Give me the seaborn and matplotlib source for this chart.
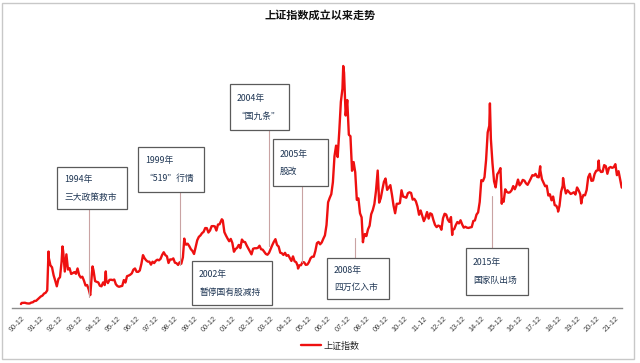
import numpy as np
import pandas as pd
import seaborn as sns
import matplotlib
matplotlib.use("Agg")
import matplotlib.pyplot as plt
from matplotlib.patches import Rectangle
from matplotlib.lines import Line2D

sns.set_theme(style="white")
plt.rcParams['font.family'] = ['Noto Sans CJK SC', 'DejaVu Sans']

# ---- data: Shanghai Composite month-end closes ----
y1990 = [127.6]
y1991 = [129.97, 133.01, 120.19, 113.94, 114.83, 137.56, 145.41, 178.43, 180.92, 218.60, 259.60, 292.75]
y1992 = [313.24, 364.95, 384.94, 445.19, 1265.79, 1079.08, 1029.51, 827.17, 695.40, 549.28, 733.06, 780.39]
y1993 = [1171, 1428, 923, 1358, 973, 1007, 862, 883, 908, 866, 1001, 834]
y1994 = [770, 792, 694, 569, 582, 467, 333, 880, 950, 680, 662, 648]
y1995 = [562, 549, 647, 580, 700, 630, 712, 716, 705, 720, 601, 555]
y1996 = [537, 550, 560, 707, 644, 805, 820, 842, 877, 971, 1001, 917]
y1997 = [914, 950, 1117, 1338, 1259, 1206, 1174, 1172, 1097, 1171, 1136, 1194]
y1998 = [1222, 1207, 1243, 1343, 1411, 1339, 1309, 1139, 1230, 1226, 1255, 1147]
y1999 = [1134, 1090, 1158, 1120, 1280, 1689, 1601, 1627, 1566, 1488, 1443, 1367]
y2000 = [1535, 1715, 1800, 1836, 1894, 1928, 2023, 2021, 1910, 1961, 2070, 2073]
y2001 = [2066, 1960, 2112, 2119, 2214, 2218, 1920, 1834, 1758, 1690, 1748, 1646]
y2002 = [1424, 1491, 1524, 1596, 1515, 1732, 1676, 1667, 1581, 1507, 1435, 1358]
y2003 = [1499, 1512, 1511, 1521, 1576, 1487, 1477, 1421, 1367, 1348, 1397, 1497]
y2004 = [1590, 1675, 1742, 1595, 1555, 1400, 1386, 1342, 1396, 1320, 1340, 1267]
y2005 = [1191, 1306, 1181, 1159, 1060, 1080, 1083, 1162, 1155, 1092, 1099, 1161]
y2006 = [1258, 1299, 1298, 1440, 1641, 1672, 1612, 1658, 1752, 1837, 2099, 2675]
y2007 = [2786, 2881, 3183, 3841, 4109, 3820, 4471, 5218, 5552, 5954, 4871, 5262]
y2008 = [4383, 4348, 3473, 3693, 3433, 2736, 2775, 2397, 2293, 1729, 1871, 1821]
y2009 = [1991, 2082, 2373, 2477, 2632, 2959, 3412, 2667, 2779, 2996, 3195, 3277]
y2010 = [2989, 3051, 3109, 2870, 2592, 2398, 2638, 2638, 2655, 2979, 2820, 2808]
y2011 = [2790, 2905, 2928, 2911, 2743, 2762, 2701, 2568, 2359, 2468, 2333, 2199]
y2012 = [2292, 2428, 2262, 2396, 2373, 2225, 2103, 2047, 2086, 2069, 1980, 2269]
y2013 = [2385, 2365, 2237, 2178, 2301, 1979, 1994, 2098, 2175, 2141, 2220, 2116]
y2014 = [2033, 2056, 2033, 2026, 2039, 2048, 2202, 2217, 2364, 2420, 2683, 3235]
y2015 = [3210, 3310, 3748, 4442, 4612, 4277, 3664, 3206, 3053, 3383, 3445, 3539]
y2016 = [2738, 2688, 3004, 2938, 2917, 2930, 2979, 3085, 3005, 3100, 3250, 3104]
y2017 = [3159, 3242, 3223, 3155, 3117, 3192, 3273, 3361, 3349, 3393, 3317, 3307]
y2018 = [3481, 3259, 3169, 3082, 3095, 2847, 2876, 2725, 2821, 2603, 2588, 2494]
y2019 = [2585, 2941, 3091, 3078, 2899, 2979, 2933, 2886, 2905, 2929, 2871, 3050]
y2020 = [2977, 2880, 2750, 2860, 2852, 2985, 3310, 3396, 3218, 3225, 3392, 3473]
y2021 = [3483, 3509, 3442, 3447, 3615, 3591, 3397, 3544, 3568, 3547, 3564, 3640]
y2022 = [3361, 3462, 3253, 3047]

# intra-month extremes (decimal year, value)
extreme_dates = [1990.96, 1992.40, 1993.13, 1994.575, 1994.70, 1995.39, 1999.49, 2001.45,
                 2005.43, 2007.79, 2008.82, 2009.59, 2013.48, 2015.45, 2016.07, 2018.075,
                 2019.01, 2019.27, 2020.22, 2021.13]
extreme_vals = [100, 1429, 1558, 326, 1052, 926, 1756, 2245,
                998, 6124, 1664, 3478, 1849, 5178, 2638, 3587,
                2440, 3288, 2646, 3731]

tick_labels = [f"{y % 100:02d}-12" for y in range(1990, 2022)]

# ---- build series ----
years = {1990: y1990, 1991: y1991, 1992: y1992, 1993: y1993, 1994: y1994, 1995: y1995,
         1996: y1996, 1997: y1997, 1998: y1998, 1999: y1999, 2000: y2000, 2001: y2001,
         2002: y2002, 2003: y2003, 2004: y2004, 2005: y2005, 2006: y2006, 2007: y2007,
         2008: y2008, 2009: y2009, 2010: y2010, 2011: y2011, 2012: y2012, 2013: y2013,
         2014: y2014, 2015: y2015, 2016: y2016, 2017: y2017, 2018: y2018, 2019: y2019,
         2020: y2020, 2021: y2021, 2022: y2022}
t, v = [], []
for yr, vals in years.items():
    start_month = 12 if yr == 1990 else 1
    for i, val in enumerate(vals):
        m = start_month + i
        t.append(yr + m / 12.0)
        v.append(val)
t += extreme_dates
v += extreme_vals
df = pd.DataFrame({"t": t, "v": v}).sort_values("t").reset_index(drop=True)

W, H = 640, 363
fig = plt.figure(figsize=(W / 100, H / 100), dpi=100)

def fx(px):
    return px / W

def fy(py):
    return 1 - py / H

ax_l, ax_r, ax_t, ax_b = 12, 622, 35, 308
ax = fig.add_axes([fx(ax_l), fy(ax_b), fx(ax_r) - fx(ax_l), fy(ax_t) - fy(ax_b)])

sns.lineplot(data=df, x="t", y="v", ax=ax, color="#ee1010", lw=1.7,
             sort=False, estimator=None, label="上证指数")

px_per_year = 19.15
x0 = 1991 + (ax_l - 21.7) / px_per_year
x1 = 1991 + (ax_r - 21.7) / px_per_year
ax.set_xlim(x0, x1)
val_per_px = 6124 / (308 - 66)
ax.set_ylim(0, (ax_b - ax_t) * val_per_px)

ticks = [1991 + i for i in range(len(tick_labels))]
ax.set_xticks(ticks)
ax.set_xticklabels(tick_labels, rotation=45, ha="right", va="top",
                   rotation_mode="anchor", fontsize=5.3, color="#404040",
                   family=["Liberation Sans", "DejaVu Sans"])
ax.set_yticks([])
ax.set_xlabel("")
ax.set_ylabel("")
for s in ["left", "right", "top"]:
    ax.spines[s].set_visible(False)
ax.spines["bottom"].set_color("#8c8c8c")
ax.spines["bottom"].set_linewidth(1.0)
ax.tick_params(axis="x", direction="out", length=3, width=0.8, color="#8c8c8c", pad=2)
ax.patch.set_alpha(0)

ax.get_legend().remove()
handles, labels = ax.get_legend_handles_labels()
fig.legend(handles, labels, loc="center", bbox_to_anchor=(fx(330), fy(346)),
           frameon=False, fontsize=6.5, handlelength=2.2, handletextpad=0.3)

fig.text(fx(320), fy(15), "上证指数成立以来走势", ha="center", va="center",
         fontsize=8, fontweight="bold", color="#111111")

# ---- annotation boxes: (left, top, right, bottom) in px ----
notes = [
    ("1994年", "三大政策救市", (57, 167, 127, 209)),
    ("1999年", "“519”行情", (138, 147, 204, 192)),
    ("2004年", "“国九条”", (230, 84, 289, 130)),
    ("2002年", "暂停国有股减持", (192, 261, 272, 305)),
    ("2005年", "股改", (273, 139, 328, 186)),
    ("2008年", "四万亿入市", (327, 258, 389, 299)),
    ("2015年", "国家队出场", (466, 248, 528, 295)),
]
# connector lines: (x px, y start px, y end px)
connectors = [
    (88.5, 209, 297),
    (179.5, 192, 265),
    (268.5, 130, 246),
    (302, 186, 262),
    (355, 258, 238),
    (491.5, 248, 196),
]
line_col = "#c9a3a3"
for (x, ya, yb) in connectors:
    fig.add_artist(Line2D([fx(x), fx(x)], [fy(ya), fy(yb)], color=line_col, lw=0.8, zorder=3))

for l1, l2, (l, tp, r, b) in notes:
    fig.add_artist(Rectangle((fx(l), fy(b)), fx(r) - fx(l), fy(tp) - fy(b),
                             facecolor="white", edgecolor="#5a5a5a", lw=0.9, zorder=4))
    cy = (tp + b) / 2
    fig.text(fx(l + 7), fy(cy - 8.5), l1, ha="left", va="center", fontsize=6.3,
             color="#1f3654", zorder=5)
    fig.text(fx(l + 7), fy(cy + 9), l2, ha="left", va="center", fontsize=6.3,
             color="#1f3654", zorder=5)

# outer frame
fig.add_artist(Rectangle((fx(2), fy(359)), fx(634) - fx(2), fy(3) - fy(359),
                         fill=False, edgecolor="#c8c8c8", lw=1.0))

fig.savefig("out.png", dpi=100)
